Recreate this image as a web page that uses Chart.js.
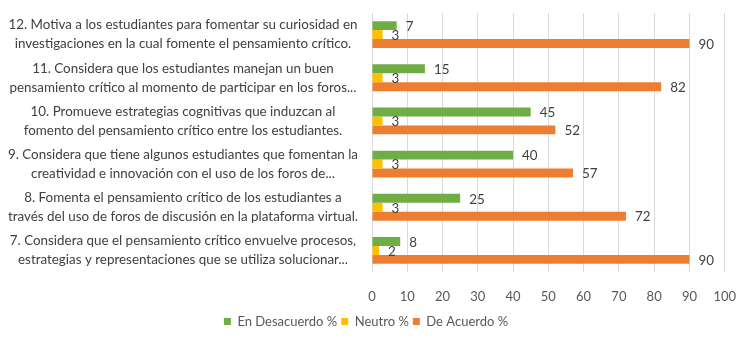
<!DOCTYPE html>
<html>
<head>
<meta charset="utf-8">
<script src="https://cdn.jsdelivr.net/npm/chart.js@4"></script>
<style>
  html, body { margin: 0; padding: 0; background: #fff; }
  #wrap { width: 753px; height: 338px; }
</style>
</head>
<body>
<div id="wrap"><canvas id="chart"></canvas></div>
<script>
// Preguntas (de arriba hacia abajo)
const preguntas = [
    ['12. Motiva a los estudiantes para fomentar su curiosidad en', 'investigaciones en la cual fomente el pensamiento crítico.'],
    ['11. Considera que los estudiantes manejan un buen', 'pensamiento crítico al momento de participar en los foros...'],
    ['10. Promueve estrategias cognitivas que induzcan al', 'fomento del pensamiento crítico entre los estudiantes.'],
    ['9. Considera que tiene algunos estudiantes que fomentan la', 'creatividad e innovación con el uso de los foros de...'],
    ['8. Fomenta el pensamiento crítico de los estudiantes a', 'través del uso de foros de discusión en la plataforma virtual.'],
    ['7. Considera que el pensamiento crítico envuelve procesos,', 'estrategias y representaciones que se utiliza solucionar...']
];

const enDesacuerdo = [7, 15, 45, 40, 25, 8];
const neutro = [3, 3, 3, 3, 3, 2];
const deAcuerdo = [90, 82, 52, 57, 72, 90];

const FONT = 'Lato';

// etiquetas de valor a la derecha de cada barra
const valueLabels = {
    id: 'valueLabels',
    afterDatasetsDraw(chart) {
        const ctx = chart.ctx;
        ctx.save();
        ctx.font = '13.4px ' + FONT;
        ctx.fillStyle = '#404040';
        ctx.textAlign = 'left';
        ctx.textBaseline = 'middle';
        chart.data.datasets.forEach((ds, i) => {
            const meta = chart.getDatasetMeta(i);
            meta.data.forEach((bar, j) => {
                ctx.fillText(ds.data[j], bar.x + 9, bar.y + 1);
            });
        });
        ctx.restore();
    }
};

new Chart(document.getElementById('chart'), {
    type: 'bar',
    data: {
        labels: preguntas,
        datasets: [
            { label: 'En Desacuerdo %', data: enDesacuerdo, backgroundColor: '#70AD47' },
            { label: 'Neutro %', data: neutro, backgroundColor: '#FFC000' },
            { label: 'De Acuerdo %', data: deAcuerdo, backgroundColor: '#ED7D31' }
        ]
    },
    options: {
        indexAxis: 'y',
        responsive: true,
        maintainAspectRatio: false,
        animation: false,
        datasets: {
            bar: { categoryPercentage: 0.62, barPercentage: 1.0 }
        },
        layout: { padding: { top: 13, right: 27, left: 6, bottom: 0 } },
        plugins: {
            legend: {
                position: 'bottom',
                labels: {
                    boxWidth: 7,
                    boxHeight: 7,
                    color: '#595959',
                    padding: 4,
                    font: { family: FONT, size: 13 }
                }
            },
            tooltip: { enabled: false }
        },
        scales: {
            x: {
                min: 0,
                max: 100,
                ticks: { stepSize: 10, color: '#595959', padding: 17, font: { family: FONT, size: 13 } },
                grid: { color: '#D9D9D9', drawTicks: false },
                border: { display: false },
                afterFit(scale) {
                    scale.height = 39;
                }
            },
            y: {
                ticks: {
                    color: '#404040',
                    autoSkip: false,
                    crossAlign: 'center',
                    padding: 14,
                    font: { family: FONT, size: 13.4, lineHeight: 1.42 }
                },
                grid: { display: false, drawTicks: false },
                border: { display: false },
                afterFit(scale) {
                    // ancho fijo del eje de preguntas
                    scale.width = 366;
                    scale.paddingTop = 0;
                    scale.paddingBottom = 0;
                }
            }
        }
    },
    plugins: [valueLabels]
});
</script>
</body>
</html>
